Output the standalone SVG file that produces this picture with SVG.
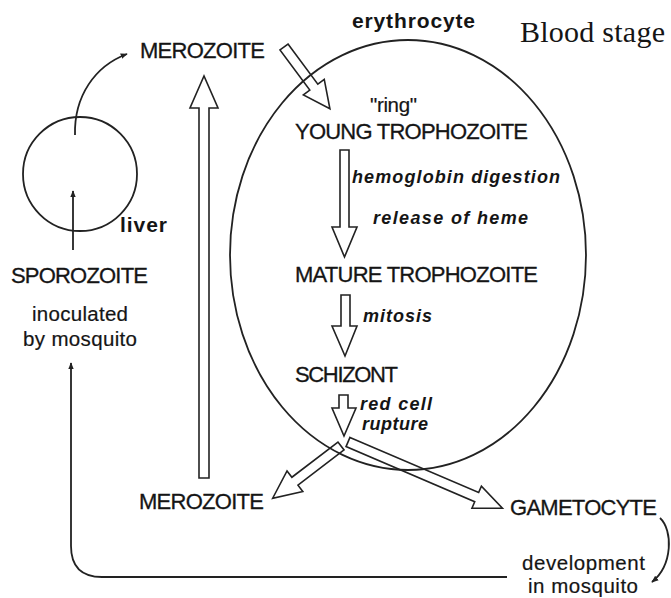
<svg xmlns="http://www.w3.org/2000/svg" width="671" height="598" viewBox="0 0 671 598">
<style>
.t{font-family:"Liberation Sans",Arial,sans-serif;font-size:22px;fill:#151515;stroke:#151515;stroke-width:0.3}
.s{font-family:"Liberation Sans",Arial,sans-serif;font-size:20.5px;fill:#151515;stroke:#151515;stroke-width:0.2}
.bi{font-family:"Liberation Sans",Arial,sans-serif;font-size:18px;font-weight:bold;font-style:italic;fill:#151515}
.b{font-family:"Liberation Sans",Arial,sans-serif;font-size:21px;font-weight:bold;fill:#151515}
.serif{font-family:"Liberation Serif","Times New Roman",serif;font-size:30px;fill:#151515}
.ln{fill:none;stroke:#222;stroke-width:1.8}
.ha{fill:none;stroke:#222;stroke-width:1.6;stroke-linejoin:miter}
</style>
<defs>
<marker id="ah" viewBox="0 0 10 10" refX="9" refY="5" markerWidth="7" markerHeight="7" markerUnits="userSpaceOnUse" orient="auto">
<path d="M0,1 L10,5 L0,9 Z" fill="#222"/>
</marker>
</defs>
<rect width="671" height="598" fill="#fff"/>

<g id="liver">
<circle cx="80" cy="174" r="57" class="ln"/>
<text class="b" x="120" y="232" textLength="47">liver</text>
</g>

<g id="erythrocyte">
<ellipse cx="408" cy="255" rx="178" ry="215" class="ln"/>
<text class="b" x="352" y="28" textLength="123">erythrocyte</text>
</g>

<g id="title">
<text class="serif" x="520" y="42" textLength="145">Blood stage</text>
</g>

<g id="merozoite-top"><text class="t" x="140" y="58" textLength="125">MEROZOITE</text></g>
<g id="young-trophozoite">
<text class="s" x="370" y="112" textLength="47">"ring"</text>
<text class="t" x="295" y="139" textLength="233">YOUNG TROPHOZOITE</text>
</g>
<g id="mature-trophozoite"><text class="t" x="295" y="282" textLength="243">MATURE TROPHOZOITE</text></g>
<g id="schizont"><text class="t" x="295" y="382" textLength="103">SCHIZONT</text></g>
<g id="sporozoite">
<text class="t" x="11" y="283" textLength="137">SPOROZOITE</text>
<text class="s" x="32" y="321" textLength="96">inoculated</text>
<text class="s" x="23" y="346" textLength="114">by mosquito</text>
</g>
<g id="merozoite-bottom"><text class="t" x="139" y="509" textLength="125">MEROZOITE</text></g>
<g id="gametocyte"><text class="t" x="510" y="515" textLength="147">GAMETOCYTE</text></g>
<g id="mosquito-development">
<text class="s" x="522" y="570" textLength="123">development</text>
<text class="s" x="528" y="593" textLength="110">in mosquito</text>
</g>

<g id="connectors">
<path class="ln" d="M75,135 C74,96 95,66 127,54" marker-end="url(#ah)"/>
<path class="ln" d="M73,250 V191" marker-end="url(#ah)"/>
<path class="ln" d="M507,577 H102 Q71,577 71,546 V363" marker-end="url(#ah)"/>
<path class="ln" d="M660,518 C673,530 673,565 652,582" marker-end="url(#ah)"/>

<polygon class="ha" points="199,478 209,478 209,108 218,108 204,76 190,108 199,108"/>
<polygon class="ha" points="340,150 349,150 349,227 357,227 344.5,257 332,227 340,227"/>
<polygon class="ha" points="341,295 350,295 350,326 357,326 345,356 332,326 341,326"/>
<polygon class="ha" points="339,395 348,395 348,408 356,408 344,436 332,408 339,408"/>
<polygon class="ha" transform="translate(284,47) rotate(53.4)" points="0,-5 50,-5 50,-13 77,0 50,13 50,5 0,5"/>
<polygon class="ha" transform="translate(341,446) rotate(142.6)" points="0,-5 58,-5 58,-13 86,0 58,13 58,5 0,5"/>
<polygon class="ha" transform="translate(348,442) rotate(23.2)" points="0,-5 140,-5 140,-12 168,0 140,12 140,5 0,5"/>

<text class="bi" x="352" y="183" textLength="208">hemoglobin  digestion</text>
<text class="bi" x="373" y="224" textLength="155">release  of  heme</text>
<text class="bi" x="363" y="322" textLength="69">mitosis</text>
<text class="bi" x="360" y="410" textLength="72">red  cell</text>
<text class="bi" x="362" y="430" textLength="66">rupture</text>
</g>
</svg>
